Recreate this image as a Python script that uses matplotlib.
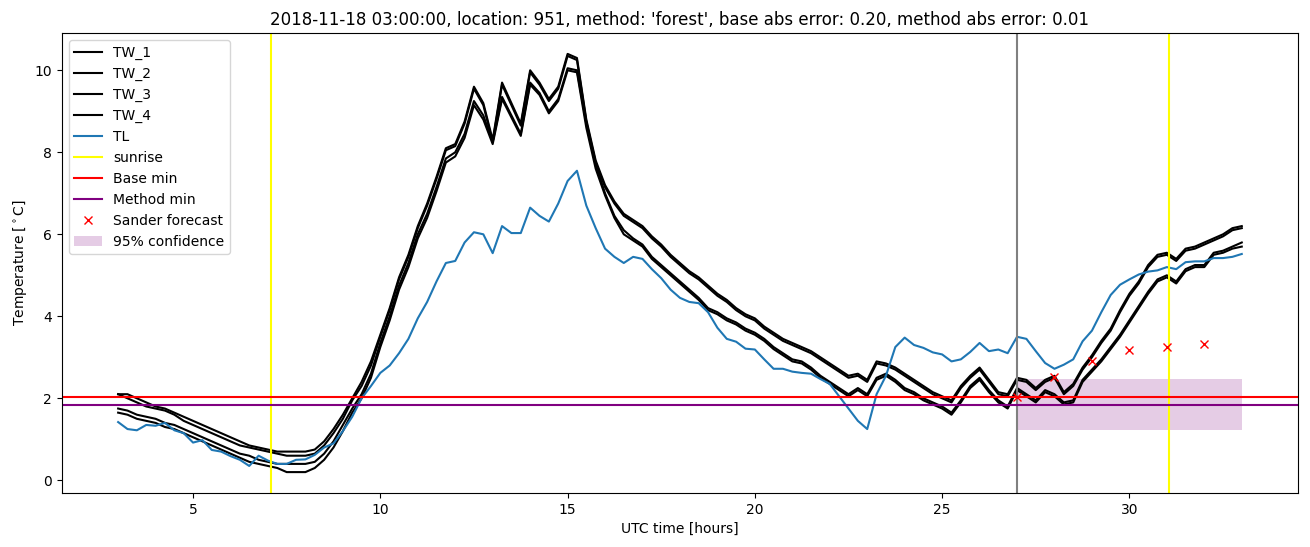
import numpy as np
import matplotlib
matplotlib.use("Agg")
import matplotlib.pyplot as plt

# time grid (UTC hours), 15-minute readings
hours = np.arange(3.0, 33.001, 0.25)

TW_1 = [2.1, 2.1, 2.0, 1.9,
        1.8, 1.75, 1.65, 1.55,
        1.45, 1.35, 1.25, 1.15,
        1.05, 0.95, 0.85, 0.8,
        0.75, 0.7, 0.7, 0.7,
        0.7, 0.75, 0.95, 1.25,
        1.6, 2.0, 2.4, 2.9,
        3.55, 4.2, 4.95, 5.5,
        6.2, 6.75, 7.4, 8.1,
        8.2, 8.75, 9.6, 9.2,
        8.3, 9.7, 9.2, 8.7,
        10.0, 9.7, 9.3, 9.6,
        10.4, 10.3, 8.8, 7.8,
        7.2, 6.8, 6.5, 6.35,
        6.2, 5.95, 5.75, 5.5,
        5.3, 5.1, 4.95, 4.75,
        4.55, 4.4, 4.2, 4.05,
        3.95, 3.75, 3.6, 3.45,
        3.35, 3.25, 3.15, 3.0,
        2.85, 2.7, 2.55, 2.6,
        2.45, 2.9, 2.85, 2.75,
        2.6, 2.45, 2.3, 2.15,
        2.05, 1.95, 2.3, 2.55,
        2.75, 2.45, 2.15, 2.1,
        2.5, 2.45, 2.25, 2.45,
        2.55, 2.15, 2.35, 2.75,
        3.05, 3.4, 3.7, 4.15,
        4.55, 4.85, 5.25, 5.5,
        5.55, 5.4, 5.65, 5.7,
        5.8, 5.9, 6.0, 6.15,
        6.2]

TW_2 = [2.1, 2.0, 1.9, 1.8,
        1.75, 1.7, 1.6, 1.45,
        1.35, 1.25, 1.15, 1.05,
        0.95, 0.85, 0.8, 0.75,
        0.7, 0.65, 0.6, 0.6,
        0.6, 0.65, 0.85, 1.15,
        1.5, 1.95, 2.3, 2.8,
        3.5, 4.15, 4.9, 5.45,
        6.15, 6.7, 7.35, 8.05,
        8.15, 8.7, 9.55, 9.15,
        8.25, 9.65, 9.15, 8.65,
        9.95, 9.65, 9.25, 9.55,
        10.35, 10.25, 8.75, 7.75,
        7.15, 6.75, 6.45, 6.3,
        6.15, 5.9, 5.7, 5.45,
        5.25, 5.05, 4.9, 4.7,
        4.5, 4.35, 4.15, 4.0,
        3.9, 3.7, 3.55, 3.4,
        3.3, 3.2, 3.1, 2.95,
        2.8, 2.65, 2.5, 2.55,
        2.4, 2.85, 2.8, 2.7,
        2.55, 2.4, 2.25, 2.1,
        2.0, 1.9, 2.25, 2.5,
        2.7, 2.4, 2.1, 2.05,
        2.45, 2.4, 2.2, 2.4,
        2.5, 2.1, 2.3, 2.7,
        3.0, 3.35, 3.65, 4.1,
        4.5, 4.8, 5.2, 5.45,
        5.5, 5.35, 5.6, 5.65,
        5.75, 5.85, 5.95, 6.1,
        6.15]

TW_3 = [1.75, 1.7, 1.6, 1.55,
        1.5, 1.4, 1.35, 1.25,
        1.15, 1.05, 0.95, 0.85,
        0.75, 0.65, 0.6, 0.5,
        0.45, 0.4, 0.4, 0.4,
        0.4, 0.45, 0.65, 0.95,
        1.35, 1.75, 2.1, 2.6,
        3.35, 4.0, 4.75, 5.3,
        6.0, 6.5, 7.15, 7.85,
        8.0, 8.45, 9.25, 8.9,
        8.25, 9.35, 8.9, 8.45,
        9.7, 9.45, 9.0, 9.3,
        10.05, 10.0, 8.7, 7.7,
        7.0, 6.45, 6.1, 5.9,
        5.75, 5.45, 5.25, 5.05,
        4.85, 4.65, 4.45, 4.2,
        4.1, 3.95, 3.85, 3.7,
        3.6, 3.45, 3.25, 3.1,
        2.95, 2.9, 2.75, 2.55,
        2.4, 2.25, 2.1, 2.25,
        2.1, 2.5, 2.6, 2.45,
        2.25, 2.15, 2.0, 1.9,
        1.8, 1.65, 1.95, 2.3,
        2.5, 2.2, 1.95, 1.8,
        2.25, 2.1, 1.95, 2.2,
        2.1, 1.9, 1.95, 2.45,
        2.7, 2.95, 3.25, 3.55,
        3.9, 4.25, 4.6, 4.9,
        5.0, 4.85, 5.15, 5.25,
        5.25, 5.55, 5.6, 5.7,
        5.8]

TW_4 = [1.65, 1.6, 1.5, 1.45,
        1.4, 1.3, 1.25, 1.15,
        1.05, 0.95, 0.85, 0.75,
        0.65, 0.55, 0.45, 0.4,
        0.35, 0.3, 0.2, 0.2,
        0.2, 0.3, 0.5, 0.8,
        1.2, 1.65, 2.0, 2.5,
        3.25, 3.9, 4.65, 5.2,
        5.9, 6.4, 7.05, 7.75,
        7.9, 8.35, 9.15, 8.8,
        8.2, 9.3, 8.85, 8.4,
        9.65, 9.4, 8.95, 9.25,
        10.0, 9.95, 8.6, 7.6,
        6.95, 6.4, 6.0, 5.85,
        5.7, 5.4, 5.2, 5.0,
        4.8, 4.6, 4.4, 4.15,
        4.05, 3.9, 3.8, 3.65,
        3.55, 3.4, 3.2, 3.05,
        2.9, 2.85, 2.7, 2.5,
        2.35, 2.2, 2.05, 2.2,
        2.05, 2.45, 2.55, 2.4,
        2.2, 2.1, 1.95, 1.85,
        1.75, 1.6, 1.9, 2.25,
        2.45, 2.15, 1.9, 1.75,
        2.2, 2.05, 1.9, 2.15,
        2.05, 1.85, 1.9, 2.4,
        2.65, 2.9, 3.2, 3.5,
        3.85, 4.2, 4.55, 4.85,
        4.95, 4.8, 5.1, 5.2,
        5.2, 5.5, 5.55, 5.65,
        5.7]

TL = [1.42, 1.25, 1.22, 1.35,
      1.33, 1.40, 1.22, 1.15,
      0.92, 0.98, 0.74, 0.70,
      0.59, 0.50, 0.35, 0.60,
      0.48, 0.40, 0.40, 0.50,
      0.51, 0.62, 0.80, 0.90,
      1.20, 1.55, 2.00, 2.30,
      2.62, 2.80, 3.10, 3.45,
      3.95, 4.35, 4.85, 5.30,
      5.35, 5.80, 6.05, 6.00,
      5.54, 6.20, 6.03, 6.03,
      6.65, 6.45, 6.31, 6.75,
      7.30, 7.55, 6.70, 6.15,
      5.65, 5.45, 5.30, 5.45,
      5.40, 5.15, 4.93, 4.65,
      4.45, 4.35, 4.32, 4.10,
      3.72, 3.45, 3.38, 3.21,
      3.19, 2.95, 2.72, 2.72,
      2.65, 2.62, 2.60, 2.47,
      2.35, 2.05, 1.75, 1.45,
      1.25, 2.10, 2.55, 3.25,
      3.48, 3.30, 3.23, 3.12,
      3.07, 2.90, 2.95, 3.13,
      3.35, 3.15, 3.19, 3.10,
      3.50, 3.45, 3.15, 2.86,
      2.72, 2.82, 2.95, 3.39,
      3.65, 4.10, 4.52, 4.77,
      4.90, 5.02, 5.09, 5.12,
      5.20, 5.15, 5.32, 5.34,
      5.34, 5.42, 5.42, 5.45,
      5.52]

sunrise_hours = [7.07, 31.05]
forecast_start = 27.0
base_min = 2.02
method_min = 1.83
sander_hours = [27, 28, 29, 30, 31, 32]
sander_values = [2.02, 2.53, 2.90, 3.19, 3.26, 3.33]
conf_hours = [27.0, 33.0]
conf_low = [1.22, 1.22]
conf_high = [2.48, 2.48]

title = ("2018-11-18 03:00:00, location: 951, method: 'forest', "
         "base abs error: 0.20, method abs error: 0.01")

fig = plt.figure(figsize=(13.1, 5.47), dpi=100)
ax = fig.add_axes([0.0473, 0.0987, 0.9435, 0.841])

for name, vals in [("TW_1", TW_1), ("TW_2", TW_2), ("TW_3", TW_3), ("TW_4", TW_4)]:
    ax.plot(hours, vals, color="black", label=name)
ax.plot(hours, TL, color="#1f77b4", label="TL")
ax.axvline(sunrise_hours[0], color="yellow", label="sunrise")
ax.axvline(sunrise_hours[1], color="yellow")
ax.axvline(forecast_start, color="gray")
ax.axhline(base_min, color="red", label="Base min")
ax.axhline(method_min, color="purple", label="Method min")
ax.plot(sander_hours, sander_values, "rx", label="Sander forecast")
ax.fill_between(conf_hours, conf_low, conf_high, color="purple", alpha=0.2,
                linewidth=0, label="95% confidence")

ax.set_title(title)
ax.set_xlabel("UTC time [hours]")
ax.set_ylabel("Temperature [$^\\circ$C]")
ax.legend(loc="upper left")

fig.savefig("out.png", dpi=100)
